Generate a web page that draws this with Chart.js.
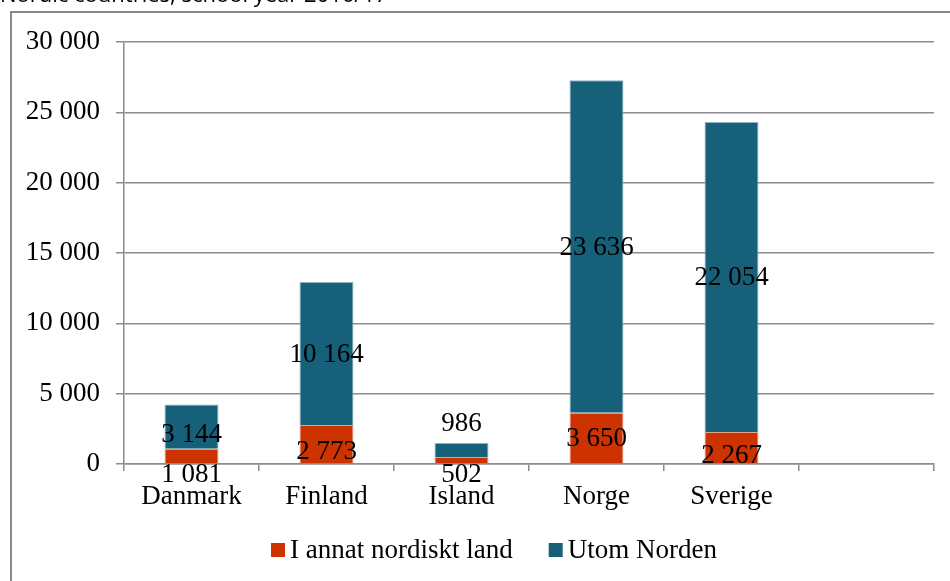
<!DOCTYPE html>
<html>
<head>
<meta charset="utf-8">
<script src="https://cdn.jsdelivr.net/npm/chart.js@4/dist/chart.umd.min.js"></script>
<style>
  html, body { margin: 0; padding: 0; background: #fff; }
  #wrap { width: 950px; height: 581px; }
</style>
</head>
<body>
<div id="wrap"><canvas id="chart" width="950" height="581"></canvas></div>
<script>
const titleText = 'Nordic countries, school year 2016/17';
const countries = ['Danmark', 'Finland', 'Island', 'Norge', 'Sverige', ''];
const nordicLabel = 'I annat nordiskt land';
const outsideLabel = 'Utom Norden';
const nordicValues = [1081, 2773, 502, 3650, 2267, null];
const outsideValues = [3144, 10164, 986, 23636, 22054, null];

const serif = "'Liberation Serif', 'DejaVu Serif', serif";
const gridColor = '#8c8c8c';
const fontSize = 27;

const fmt = v => String(v).replace(/\B(?=(\d{3})+(?!\d))/g, ' ');

// frame + cut-off title at the very top
const framePlugin = {
    id: 'frame',
    beforeDraw(chart) {
        const ctx = chart.ctx;
        ctx.save();
        ctx.fillStyle = '#fff';
        ctx.fillRect(0, 0, chart.width, chart.height);
        ctx.strokeStyle = '#8a8a8a';
        ctx.lineWidth = 2;
        ctx.beginPath();
        ctx.moveTo(11, chart.height + 5);
        ctx.lineTo(11, 12);
        ctx.lineTo(chart.width + 5, 12);
        ctx.stroke();
        ctx.fillStyle = '#000';
        ctx.font = "22px 'Open Sans', sans-serif";
        ctx.textBaseline = 'alphabetic';
        ctx.fillText(titleText, 0, 2);
        ctx.restore();
    }
};

// value labels, roughly where Excel put them
const labelPlugin = {
    id: 'valueLabels',
    afterDatasetsDraw(chart) {
        const ctx = chart.ctx;
        ctx.save();
        ctx.font = fontSize + 'px ' + serif;
        ctx.fillStyle = '#000';
        ctx.textAlign = 'center';
        ctx.textBaseline = 'middle';
        chart.data.datasets.forEach((ds, di) => {
            const meta = chart.getDatasetMeta(di);
            meta.data.forEach((bar, i) => {
                const v = ds.data[i];
                if (v == null) return;
                const top = Math.min(bar.y, bar.base);
                const bottom = Math.max(bar.y, bar.base);
                const h = bottom - top;
                let y = (top + bottom) / 2;
                if (h < 25) {
                    y = di === 0 ? bottom + 11 : top - 20;
                } else if (h < 50) {
                    y += 7;
                }
                ctx.fillText(fmt(v), bar.x, y + 1);
            });
        });
        ctx.restore();
    }
};

// legend drawn by hand so the plot area stays put
const legendPlugin = {
    id: 'bottomLegend',
    afterDraw(chart) {
        const ctx = chart.ctx;
        ctx.save();
        ctx.font = fontSize + 'px ' + serif;
        ctx.textBaseline = 'middle';
        let x = 271;
        const y = 550;
        chart.data.datasets.forEach(ds => {
            ctx.fillStyle = ds.backgroundColor;
            ctx.fillRect(x, y - 7, 14, 14);
            ctx.fillStyle = '#000';
            ctx.fillText(ds.label, x + 19, y + 1);
            x += 19 + ctx.measureText(ds.label).width + 36;
        });
        ctx.restore();
    }
};

new Chart(document.getElementById('chart'), {
    type: 'bar',
    data: {
        labels: countries,
        datasets: [
            {
                label: nordicLabel,
                data: nordicValues,
                backgroundColor: '#CC3300',
                borderColor: '#e8a48a',
                borderWidth: 1,
                barPercentage: 0.4,
                categoryPercentage: 1
            },
            {
                label: outsideLabel,
                data: outsideValues,
                backgroundColor: '#17607A',
                borderColor: '#8fb3c2',
                borderWidth: 1,
                barPercentage: 0.4,
                categoryPercentage: 1
            }
        ]
    },
    options: {
        responsive: false,
        animation: false,
        layout: { padding: { left: 0, top: 42, right: 16, bottom: 0 } },
        plugins: {
            legend: { display: false },
            tooltip: { enabled: false }
        },
        scales: {
            x: {
                stacked: true,
                afterFit: s => { s.height = 117; },
                grid: {
                    offset: true,
                    drawOnChartArea: false,
                    drawTicks: true,
                    tickLength: 7,
                    color: gridColor,
                    lineWidth: 1.5
                },
                border: { display: true, color: gridColor, width: 1.5 },
                ticks: {
                    color: '#000',
                    font: { family: serif, size: fontSize },
                    padding: 10,
                    maxRotation: 0,
                    autoSkip: false
                }
            },
            y: {
                stacked: true,
                min: 0,
                max: 30000,
                afterFit: s => { s.width = 124; },
                grid: {
                    color: gridColor,
                    lineWidth: 1.5,
                    tickLength: 8
                },
                border: { display: true, color: gridColor, width: 1.5 },
                ticks: {
                    stepSize: 5000,
                    color: '#000',
                    font: { family: serif, size: fontSize },
                    padding: 16,
                    callback: v => fmt(v)
                }
            }
        }
    },
    plugins: [framePlugin, labelPlugin, legendPlugin]
});
</script>
</body>
</html>
